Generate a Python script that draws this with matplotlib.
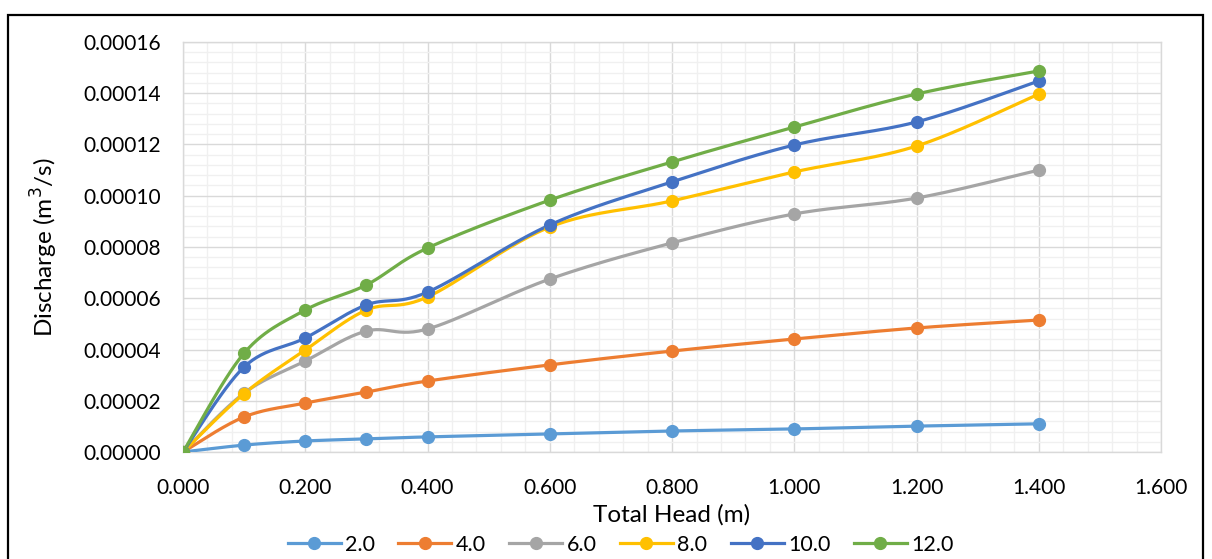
import numpy as np
import matplotlib
matplotlib.use("Agg")
import matplotlib.pyplot as plt
from matplotlib.lines import Line2D
from matplotlib.patches import Rectangle
from matplotlib.ticker import MultipleLocator, FormatStrFormatter

plt.rcParams['font.family'] = ['Lato', 'DejaVu Sans']

head = [0.0, 0.1, 0.2, 0.3, 0.4, 0.6, 0.8, 1.0, 1.2, 1.4]
labels = ["2.0", "4.0", "6.0", "8.0", "10.0", "12.0"]
q_2 = [0, 0.0000027, 0.0000043, 0.0000051, 0.0000059, 0.0000070, 0.0000082, 0.0000090, 0.0000101, 0.0000110]
q_4 = [0, 0.0000137, 0.0000191, 0.0000234, 0.0000277, 0.0000340, 0.0000394, 0.0000441, 0.0000484, 0.0000515]
q_6 = [0, 0.0000230, 0.0000355, 0.0000472, 0.0000480, 0.0000675, 0.0000816, 0.0000929, 0.0000991, 0.0001100]
q_8 = [0, 0.0000228, 0.0000398, 0.0000554, 0.0000605, 0.0000878, 0.0000980, 0.0001093, 0.0001194, 0.0001397]
q_10 = [0, 0.0000332, 0.0000445, 0.0000574, 0.0000624, 0.0000886, 0.0001054, 0.0001198, 0.0001288, 0.0001448]
q_12 = [0, 0.0000386, 0.0000554, 0.0000652, 0.0000796, 0.0000983, 0.0001132, 0.0001268, 0.0001397, 0.0001487]
series = [q_2, q_4, q_6, q_8, q_10, q_12]
colors = ["#5B9BD5", "#ED7D31", "#A5A5A5", "#FFC000", "#4472C4", "#70AD47"]


def smooth(xs, ys, n=30):
    """Catmull-Rom style Bezier smoothing (as Excel's smoothed line) for drawing."""
    xs = np.asarray(xs, float); ys = np.asarray(ys, float)
    P = np.column_stack([xs, ys])
    out = []
    for i in range(len(P) - 1):
        p0 = P[i - 1] if i > 0 else P[i]
        p1 = P[i]; p2 = P[i + 1]
        p3 = P[i + 2] if i + 2 < len(P) else P[i + 1]
        c1 = p1 + (p2 - p0) / 6.0
        c2 = p2 - (p3 - p1) / 6.0
        t = np.linspace(0, 1, n)[:, None]
        seg = (1 - t) ** 3 * p1 + 3 * (1 - t) ** 2 * t * c1 + 3 * (1 - t) * t ** 2 * c2 + t ** 3 * p2
        out.append(seg if i == 0 else seg[1:])
    s = np.vstack(out)
    return s[:, 0], s[:, 1]


fig = plt.figure(figsize=(12.12, 5.59), dpi=100)
ax = fig.add_axes([0.151, 0.1914, 0.807, 0.7335])

for ys, c in zip(series, colors):
    sx, sy = smooth(head, ys)
    ax.plot(sx, sy, color=c, lw=2.3, solid_capstyle='round', zorder=3)
    ax.plot(head, ys, 'o', color=c, ms=8.5, zorder=4)

ax.set_xlim(0, 1.6)
ax.set_ylim(0, 0.00016)
ax.xaxis.set_major_locator(MultipleLocator(0.2))
ax.xaxis.set_minor_locator(MultipleLocator(0.04))
ax.yaxis.set_major_locator(MultipleLocator(0.00002))
ax.yaxis.set_minor_locator(MultipleLocator(0.000004))
ax.xaxis.set_major_formatter(FormatStrFormatter('%.3f'))
ax.yaxis.set_major_formatter(FormatStrFormatter('%.5f'))
ax.grid(which='major', color='#D9D9D9', lw=1.0, zorder=1)
ax.grid(which='minor', color='#F0F0F0', lw=1.0, zorder=0)
ax.set_axisbelow(True)
for s in ax.spines.values():
    s.set_color('#D9D9D9'); s.set_linewidth(1.0)
ax.tick_params(which='both', length=0, labelsize=15, colors='black')
ax.tick_params(axis='y', pad=16)
ax.tick_params(axis='x', pad=19)
ax.yaxis.get_offset_text().set_visible(False)

ax.set_xlabel('Total Head (m)', fontsize=17.5, labelpad=4)
ax.set_ylabel('Discharge (m$^3$/s)', fontsize=17.5, labelpad=17)

handles = [Line2D([0], [0], color=c, lw=2.3, marker='o', ms=8.5) for c in colors]
fig.legend(handles, labels, loc='center', bbox_to_anchor=(0.512, 0.025), ncol=6,
           frameon=False, fontsize=15.5, handlelength=2.45, columnspacing=1.1,
           handletextpad=0.2)

fig.patches.append(Rectangle((8 / 1212, -0.05), (1203 - 8) / 1212, 1.05 - 15 / 559 + 0.0,
                             transform=fig.transFigure, fill=False, ec='black', lw=1.6,
                             figure=fig))

fig.savefig('out.png', dpi=100)
